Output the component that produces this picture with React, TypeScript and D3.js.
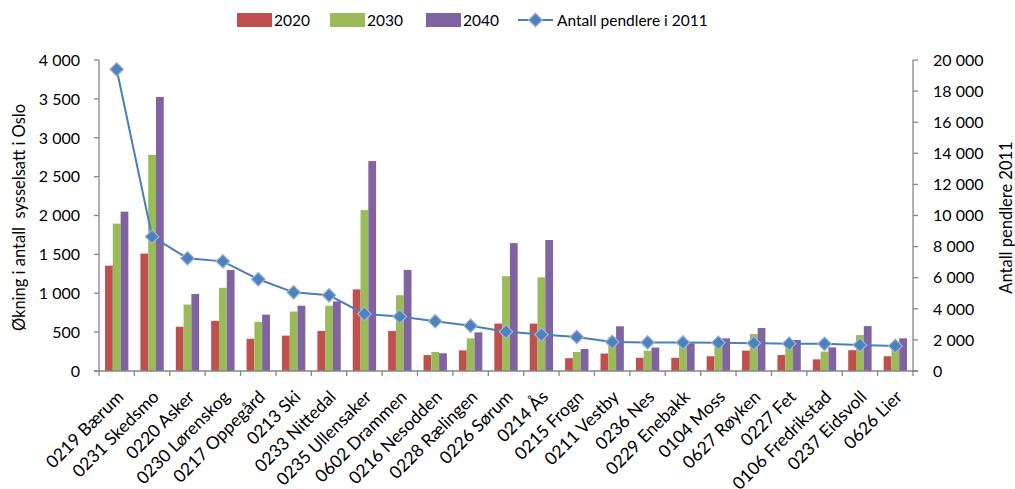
import React, { useEffect, useRef } from "react";
import * as d3 from "d3";

const categories = ["0219 Bærum","0231 Skedsmo","0220 Asker","0230 Lørenskog","0217 Oppegård","0213 Ski","0233 Nittedal","0235 Ullensaker","0602 Drammen","0216 Nesodden","0228 Rælingen","0226 Sørum","0214 Ås","0215 Frogn","0211 Vestby","0236 Nes","0229 Enebakk","0104 Moss","0627 Røyken","0227 Fet","0106 Fredrikstad","0237 Eidsvoll","0626 Lier"];
const v2020 = [1355,1510,570,645,415,455,515,1050,515,205,265,610,610,165,225,170,170,190,262,206,150,268,190];
const v2030 = [1895,2780,855,1070,630,765,840,2070,975,245,420,1220,1205,245,435,262,335,400,476,390,249,462,315];
const v2040 = [2050,3525,990,1300,725,840,895,2700,1300,228,497,1645,1685,283,575,302,356,420,553,399,304,578,420];
const pendlere = [19400,8640,7250,7050,5900,5060,4870,3670,3500,3200,2910,2530,2340,2190,1870,1840,1840,1820,1790,1760,1750,1670,1610];
const seriesNames = ["2020","2030","2040"];
const lineName = "Antall pendlere i 2011";
const leftTicks = [0,500,1000,1500,2000,2500,3000,3500,4000];
const rightTicks = [0,2000,4000,6000,8000,10000,12000,14000,16000,18000,20000];
const leftTitle = "Økning i antall  sysselsatt i Oslo";
const rightTitle = "Antall pendlere 2011";

const colors = ["#C0504D", "#9BBB59", "#8064A2"];
const lineColor = "#4A7EBB";
const markerColor = "#4F81BD";
const axisColor = "#868686";
const FONT = "Lato, 'Open Sans', sans-serif";

const fmt = (v: number) => {
  const s = String(v);
  return s.length > 3 ? s.slice(0, s.length - 3) + " " + s.slice(s.length - 3) : s;
};

export default function App() {
  const ref = useRef<SVGSVGElement | null>(null);
  useEffect(() => {
    const svg = d3.select(ref.current!);
    svg.selectAll("*").remove();
    const L = 99, R = 913, T = 60, B = 371;
    const x = d3.scaleBand<string>().domain(categories).range([L, R]).padding(0);
    const bw = x.bandwidth();
    const gw = bw * 0.66;
    const xs = d3.scaleBand<string>().domain(seriesNames).range([(bw - gw) / 2, (bw + gw) / 2]).padding(0);
    const yL = d3.scaleLinear().domain([0, 4000]).range([B, T]);
    const yR = d3.scaleLinear().domain([0, 20000]).range([B, T]);

    const data = [v2020, v2030, v2040];
    const g = svg.append("g");
    data.forEach((arr, si) => {
      g.selectAll(null)
        .data(arr)
        .enter()
        .append("rect")
        .attr("x", (_d, i) => (x(categories[i]) as number) + (xs(seriesNames[si]) as number))
        .attr("y", (d) => yL(d))
        .attr("width", xs.bandwidth())
        .attr("height", (d) => B - yL(d))
        .attr("fill", colors[si]);
    });

    // axes
    const ax = svg.append("g").attr("stroke", axisColor).attr("stroke-width", 1.3);
    ax.append("line").attr("x1", L).attr("x2", L).attr("y1", T).attr("y2", B);
    ax.append("line").attr("x1", R).attr("x2", R).attr("y1", T).attr("y2", B);
    ax.append("line").attr("x1", L - 5).attr("x2", R + 5).attr("y1", B).attr("y2", B);
    leftTicks.forEach((t) => {
      ax.append("line").attr("x1", L - 5).attr("x2", L).attr("y1", yL(t)).attr("y2", yL(t));
    });
    rightTicks.forEach((t) => {
      ax.append("line").attr("x1", R).attr("x2", R + 5).attr("y1", yR(t)).attr("y2", yR(t));
    });
    categories.forEach((c, i) => {
      const xx = (x(c) as number);
      ax.append("line").attr("x1", xx).attr("x2", xx).attr("y1", B).attr("y2", B + 5);
      if (i === categories.length - 1) ax.append("line").attr("x1", xx + bw).attr("x2", xx + bw).attr("y1", B).attr("y2", B + 5);
    });

    const txt = svg.append("g").attr("font-family", FONT).attr("fill", "#000").attr("font-size", 16);
    leftTicks.forEach((t) => {
      txt.append("text").attr("x", 80).attr("y", yL(t)).attr("dy", "0.36em").attr("text-anchor", "end").style("white-space", "pre").text(fmt(t));
    });
    rightTicks.forEach((t) => {
      txt.append("text").attr("x", 933).attr("y", yR(t)).attr("dy", "0.36em").attr("text-anchor", "start").style("white-space", "pre").text(fmt(t));
    });
    categories.forEach((c) => {
      const cx = (x(c) as number) + bw / 2;
      txt.append("text")
        .attr("transform", `translate(${cx + 8},${B + 27}) rotate(-45)`)
        .attr("text-anchor", "end")
        .attr("font-size", 17.5)
        .text(c);
    });
    txt.append("text")
      .attr("transform", `translate(25,${(T + B) / 2 + 2}) rotate(-90)`)
      .attr("text-anchor", "middle")
      .attr("font-size", 16.5)
      .style("white-space", "pre")
      .text(leftTitle);
    txt.append("text")
      .attr("transform", `translate(1012,${(T + B) / 2 + 2}) rotate(-90)`)
      .attr("text-anchor", "middle")
      .attr("font-size", 16.5)
      .text(rightTitle);

    // line
    const pts = pendlere.map((v, i) => [(x(categories[i]) as number) + bw / 2, yR(v)] as [number, number]);
    svg.append("path")
      .attr("d", d3.line()(pts)!)
      .attr("fill", "none")
      .attr("stroke", lineColor)
      .attr("stroke-width", 2);
    const sym = d3.symbol().type(d3.symbolSquare).size(92);
    svg.append("g").selectAll(null).data(pts).enter().append("path")
      .attr("d", sym()!)
      .attr("transform", (p) => `translate(${p[0]},${p[1]}) rotate(45)`)
      .attr("fill", markerColor)
      .attr("stroke", "#9DB5D6")
      .attr("stroke-width", 1.2);

    // legend
    const lg = svg.append("g").attr("font-family", FONT).attr("font-size", 15.5);
    const lx = [237, 330, 426];
    seriesNames.forEach((s, i) => {
      lg.append("rect").attr("x", lx[i]).attr("y", 13).attr("width", 35).attr("height", 14).attr("fill", colors[i]);
      lg.append("text").attr("x", lx[i] + 37).attr("y", 26).text(s);
    });
    lg.append("line").attr("x1", 518).attr("x2", 553).attr("y1", 20).attr("y2", 20).attr("stroke", lineColor).attr("stroke-width", 2);
    lg.append("path").attr("d", sym()!).attr("transform", "translate(535.5,20) rotate(45)").attr("fill", markerColor).attr("stroke", "#9DB5D6").attr("stroke-width", 1.2);
    lg.append("text").attr("x", 557).attr("y", 26).text(lineName);
  }, []);
  return (
    <svg ref={ref} width={1015} height={489} style={{ position: "absolute", left: 0, top: 0, background: "#fff" }} />
  );
}
